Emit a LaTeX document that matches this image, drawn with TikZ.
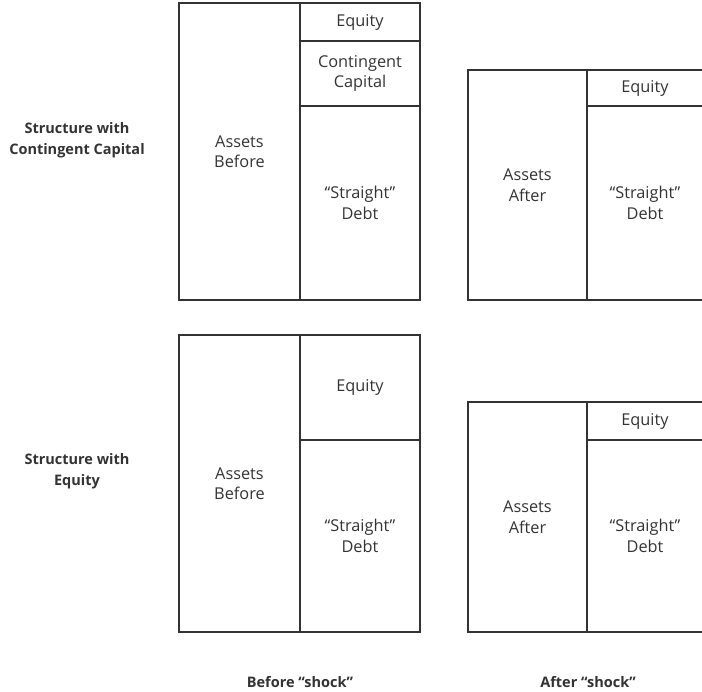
\documentclass[tikz,border=0pt]{standalone}
\usepackage{fontspec}
\setmainfont{Open Sans}
\definecolor{ink}{HTML}{333333}
\tikzset{
  cell/.style={draw=ink, line width=1.3pt, rectangle, inner sep=0pt, outer sep=0pt,
    align=center, text=ink, font=\fontsize{16.3}{20.5}\selectfont},
  sidelabel/.style={align=center, text=ink, font=\fontsize{14.5}{21}\selectfont\bfseries},
}
\begin{document}
\begin{tikzpicture}[x=1pt, y=-1pt]
\useasboundingbox (0,0) rectangle (702,692);
% --- Top: structure with contingent capital, before shock
\node[cell, minimum width=121, minimum height=297] (ab1) at (239.5,151.5) {Assets\\Before};
\node[cell, minimum width=120, minimum height=38] (eq1) at (360,22) {Equity};
\node[cell, minimum width=120, minimum height=65] (cc1) at (360,73.5) {Contingent\\Capital};
\node[cell, minimum width=120, minimum height=194] (sd1) at (360,203) {“Straight”\\Debt};
% --- Top: after shock
\node[cell, minimum width=119, minimum height=230] (aa1) at (527.5,185) {Assets\\After};
\node[cell, minimum width=116, minimum height=36] (eq2) at (645,88) {Equity};
\node[cell, minimum width=116, minimum height=194] (sd2) at (645,203) {“Straight”\\Debt};
% --- Bottom: structure with equity, before shock
\node[cell, minimum width=121, minimum height=297] (ab2) at (239.5,483.5) {Assets\\Before};
\node[cell, minimum width=120, minimum height=105] (eq3) at (360,387.5) {Equity};
\node[cell, minimum width=120, minimum height=192] (sd3) at (360,536) {“Straight”\\Debt};
% --- Bottom: after shock
\node[cell, minimum width=119, minimum height=230] (aa2) at (527.5,517) {Assets\\After};
\node[cell, minimum width=116, minimum height=38] (eq4) at (645,421) {Equity};
\node[cell, minimum width=116, minimum height=192] (sd4) at (645,536) {“Straight”\\Debt};
% --- Labels
\node[sidelabel] (lcc) at (77,140) {Structure with\\Contingent Capital};
\node[sidelabel] (leq) at (77,471) {Structure with\\Equity};
\node[sidelabel] (lbef) at (300,682) {Before “shock”};
\node[sidelabel] (laft) at (588,682) {After “shock”};
\end{tikzpicture}
\end{document}
